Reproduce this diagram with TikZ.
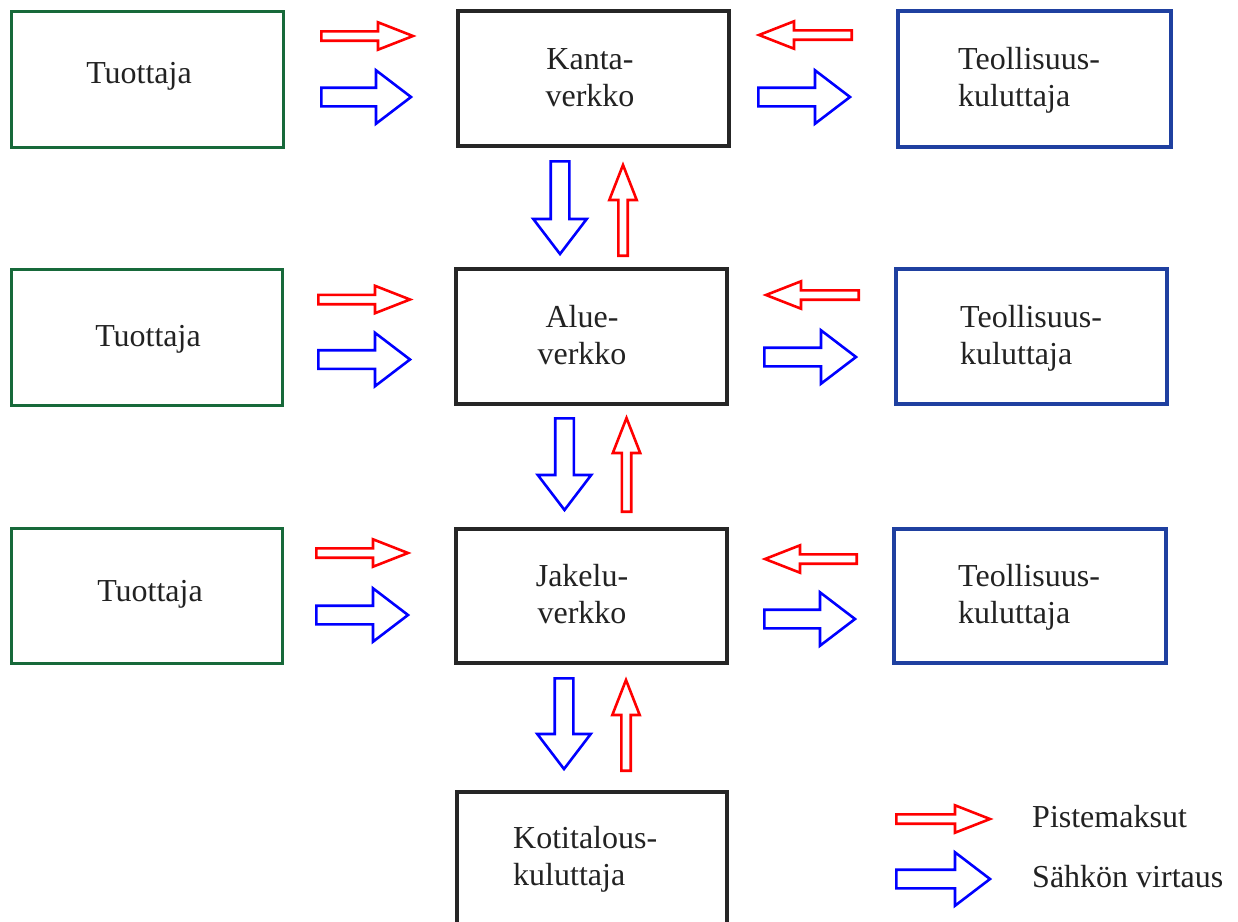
\documentclass[tikz,border=0pt]{standalone}
\usepackage{fontspec}
\setmainfont{Liberation Serif}
\definecolor{boxgreen}{HTML}{17693A}
\definecolor{boxblue}{HTML}{1F40A0}
\definecolor{arrred}{HTML}{FF0000}
\definecolor{arrblue}{HTML}{0000FF}
\definecolor{txtgray}{HTML}{222222}
\tikzset{
  box/.style={draw, rectangle, inner sep=0pt},
  gbox/.style={box, draw=boxgreen, line width=3pt},
  kbox/.style={box, draw=black!85, line width=3.8pt},
  bbox/.style={box, draw=boxblue, line width=3.2pt},
  txt/.style={inner sep=0pt, font=\fontsize{32}{37}\selectfont, text=txtgray},
  redarr/.style={draw=arrred},
  bluearr/.style={draw=arrblue},
}
% #1 style, #2 #3 outer tail point, #4 angle, #5 outer length, #6 shaft half, #7 head half, #8 head length
\newcommand\blkarrow[8]{%
  \begin{scope}[shift={(#2,#3)},rotate=#4]
    \draw[#1, line width=2.6pt, line join=miter, miter limit=10]
      (1.3,-#6) -- ({#5-3-#8},-#6) -- ({#5-3-#8},-#7) -- ({#5-3},0)
      -- ({#5-3-#8},#7) -- ({#5-3-#8},#6) -- (1.3,#6) -- cycle;
  \end{scope}}
\newcommand\redarrow[4]{\blkarrow{redarr}{#1}{#2}{#3}{#4}{4.7}{13.7}{35}}
\newcommand\bluearrow[4]{\blkarrow{bluearr}{#1}{#2}{#3}{#4}{9.3}{26.7}{35}}
\begin{document}
\begin{tikzpicture}[x=1pt,y=-1pt]
\useasboundingbox (0,0) rectangle (1238,921);
\clip (0,0) rectangle (1238,921);
\fill[white] (0,0) rectangle (1238,921);

% boxes
\node[gbox, minimum width=271.5pt, minimum height=135.5pt] (tu1) at (147.25,79.25) {};
\node[gbox, minimum width=270.5pt, minimum height=136pt] (tu2) at (146.75,337) {};
\node[gbox, minimum width=270.5pt, minimum height=135pt] (tu3) at (146.75,595.5) {};

\node[kbox, minimum width=271pt, minimum height=135pt] (kanta) at (593.5,78.5) {};
\node[kbox, minimum width=271pt, minimum height=135pt] (alue) at (591.5,336.5) {};
\node[kbox, minimum width=271pt, minimum height=134pt] (jakelu) at (591.5,596) {};
\node[kbox, minimum width=270pt, minimum height=168pt] (koti) at (592,876) {};

\node[bbox, minimum width=273pt, minimum height=136pt] (te1) at (1034.5,79) {};
\node[bbox, minimum width=271pt, minimum height=135pt] (te2) at (1031.5,336.5) {};
\node[bbox, minimum width=272pt, minimum height=134pt] (te3) at (1030,596) {};

% texts
\node[txt, anchor=base] (tu1t) at (139,83) {Tuottaja};
\node[txt, anchor=base] (tu2t) at (148,346) {Tuottaja};
\node[txt, anchor=base] (tu3t) at (150,601) {Tuottaja};

\node[txt, align=center] (kantat) at (590,80.6) {\strut Kanta-\\\strut verkko};
\node[txt, align=center] (aluet) at (582,338.6) {\strut Alue-\\\strut verkko};
\node[txt, align=center] (jakelut) at (582,597.6) {\strut Jakelu-\\\strut verkko};
\node[txt, align=left, anchor=west] (kotit) at (513,860) {\strut Kotitalous-\\\strut kuluttaja};

\node[txt, align=left, anchor=west] (te1t) at (958,80.6) {\strut Teollisuus-\\\strut kuluttaja};
\node[txt, align=left, anchor=west] (te2t) at (960,338.6) {\strut Teollisuus-\\\strut kuluttaja};
\node[txt, align=left, anchor=west] (te3t) at (958,597.6) {\strut Teollisuus-\\\strut kuluttaja};

% horizontal arrows, row 1
\redarrow{320}{36}{0}{96}
\bluearrow{320}{97}{0}{94}
\redarrow{853}{35}{180}{97}
\bluearrow{757}{97}{0}{96}
% row 2
\redarrow{317}{299.5}{0}{96}
\bluearrow{317}{359.5}{0}{96}
\redarrow{860}{295}{180}{97}
\bluearrow{763}{357}{0}{96}
% row 3
\redarrow{315}{553}{0}{96}
\bluearrow{315}{615}{0}{96}
\redarrow{858}{559}{180}{96}
\bluearrow{763}{619}{0}{95}

% vertical arrows
\bluearrow{560}{160}{-90}{97}
\redarrow{623}{257}{90}{95}
\bluearrow{564.5}{417}{-90}{96}
\redarrow{626.5}{513}{90}{98}
\bluearrow{564}{677}{-90}{95}
\redarrow{626}{772}{90}{95}

% legend
\redarrow{895}{819}{0}{98}
\bluearrow{895}{879}{0}{98}
\node[txt, anchor=base west] (leg1) at (1032,827) {Pistemaksut};
\node[txt, anchor=base west] (leg2) at (1032,887) {Sähkön virtaus};
\end{tikzpicture}
\end{document}
